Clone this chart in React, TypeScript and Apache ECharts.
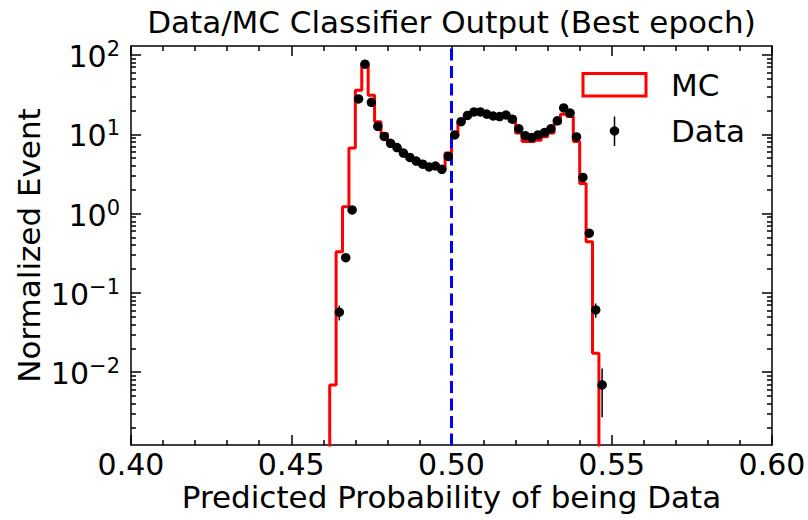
import React, { useEffect, useRef } from "react";
import * as echarts from "echarts";

// ---- data ----
const MC_FIRST_EDGE = 0.462;
const BIN_WIDTH = 0.002;
const mcValues = [
  0.0069, 0.33, 1.22, 6.7, 36, 78, 31, 14.4, 10.2, 8.0, 6.9, 5.9, 5.2, 4.7,
  4.3, 4.0, 3.9, 3.55, 5.8, 9.5, 14.3, 17.5, 19.0, 19.3, 18.2, 17.3, 17.0,
  17.5, 14.5, 10.4, 8.1, 8.1, 8.4, 9.3, 10.4, 13.8, 17.9, 16.7, 8.1, 2.4,
  0.44, 0.0173,
];
const dataX = [
  0.465, 0.467, 0.469, 0.471, 0.473, 0.475, 0.477, 0.479, 0.481, 0.483,
  0.485, 0.487, 0.489, 0.491, 0.493, 0.495, 0.497, 0.499, 0.501, 0.503,
  0.505, 0.507, 0.509, 0.511, 0.513, 0.515, 0.517, 0.519, 0.521, 0.523,
  0.525, 0.527, 0.529, 0.531, 0.533, 0.535, 0.537, 0.539, 0.541, 0.543,
  0.545, 0.547,
];
const dataY = [
  0.057, 0.278, 1.11, 27.9, 76.4, 25.3, 12.6, 9.4, 7.7, 6.8, 5.8, 5.1, 4.6,
  4.2, 3.87, 3.98, 3.62, 5.25, 9.8, 14.4, 17.3, 19.1, 19.1, 18.0, 17.0, 16.7,
  17.5, 15.5, 11.7, 9.6, 9.1, 9.8, 10.5, 11.7, 14.8, 21.5, 18.5, 9.25, 2.86,
  0.565, 0.061, 0.0069,
];
const dataErr = [
  0.012, 0.027, 0.053, 0.27, 0.44, 0.25, 0.18, 0.155, 0.14, 0.13, 0.12, 0.11,
  0.11, 0.1, 0.1, 0.1, 0.096, 0.116, 0.16, 0.19, 0.21, 0.22, 0.22, 0.21, 0.21,
  0.21, 0.21, 0.2, 0.17, 0.16, 0.15, 0.16, 0.16, 0.17, 0.19, 0.24, 0.22, 0.15,
  0.086, 0.038, 0.0125, 0.0042,
];
const xTickLabels = [0.4, 0.45, 0.5, 0.55, 0.6];
const xMinorTicks = [
  0.41, 0.42, 0.43, 0.44, 0.46, 0.47, 0.48, 0.49, 0.51, 0.52, 0.53, 0.54,
  0.56, 0.57, 0.58, 0.59,
];
const yDecades = [-2, -1, 0, 1, 2];
const cutLine = 0.5;

const X_MIN = 0.4;
const X_MAX = 0.6;
const Y_MIN = -2.918; // log10
const Y_MAX = 2.113; // log10
const FLOOR = -8;
const FONT = "DejaVu Sans";

const lg = (v: number) => (v > 0 ? Math.log10(v) : FLOOR);

export default function App() {
  const ref = useRef<HTMLDivElement>(null);
  useEffect(() => {
    if (!ref.current) return;
    const chart = echarts.init(ref.current, undefined, { renderer: "svg" });

    // step outline of MC histogram
    const step: number[][] = [[MC_FIRST_EDGE, FLOOR]];
    mcValues.forEach((v, i) => {
      const lo = MC_FIRST_EDGE + i * BIN_WIDTH;
      const hi = lo + BIN_WIDTH;
      step.push([lo, lg(v)], [hi, lg(v)]);
    });
    step.push([MC_FIRST_EDGE + mcValues.length * BIN_WIDTH, FLOOR]);

    const pts = dataX.map((x, i) => [x, lg(dataY[i])]);
    const errs = dataX.map((x, i) => [
      x,
      lg(dataY[i] + dataErr[i]),
      dataY[i] - dataErr[i] > 0 ? lg(dataY[i] - dataErr[i]) : FLOOR,
    ]);

    const yMinor: number[] = [];
    for (let n = -3; n <= 2; n++) {
      for (let k = 2; k <= 9; k++) {
        const v = n + Math.log10(k);
        if (v > Y_MIN && v < Y_MAX) yMinor.push(v);
      }
    }

    const supLabel = (v: number) => {
      const n = Math.round(v);
      const s = n < 0 ? "\u2212" + -n : "" + n;
      return `{b|10}{s|${s}}`;
    };

    const baseY = {
      type: "value",
      min: Y_MIN,
      max: Y_MAX,
      splitLine: { show: false },
    };
    const lineStyle = { color: "#000", width: 1.5 };
    const baseX = {
      type: "value",
      min: X_MIN,
      max: X_MAX,
      splitLine: { show: false },
    };

    chart.setOption({
      animation: false,
      backgroundColor: "#fff",
      grid: {
        left: 131,
        right: 36,
        top: 46,
        bottom: 75,
        containLabel: false,
        outerBoundsMode: "none",
      },
      xAxis: [
        {
          ...baseX,
          position: "bottom",
          axisLine: { show: true, onZero: false, lineStyle },
          axisTick: {
            show: true,
            inside: true,
            length: 10,
            customValues: xTickLabels,
            lineStyle,
          },
          axisLabel: {
            show: true,
            customValues: xTickLabels,
            formatter: (v: number) => v.toFixed(2),
            fontFamily: FONT,
            fontSize: 30,
            color: "#000",
            margin: 4,
          },
        },
        {
          ...baseX,
          position: "bottom",
          axisLine: { show: false, onZero: false },
          axisTick: {
            show: true,
            inside: true,
            length: 5,
            customValues: xMinorTicks,
            lineStyle,
          },
          axisLabel: { show: false },
        },
        {
          ...baseX,
          position: "top",
          axisLine: { show: true, onZero: false, lineStyle },
          axisTick: {
            show: true,
            inside: true,
            length: 10,
            customValues: xTickLabels,
            lineStyle,
          },
          axisLabel: { show: false },
        },
        {
          ...baseX,
          position: "top",
          axisLine: { show: false, onZero: false },
          axisTick: {
            show: true,
            inside: true,
            length: 5,
            customValues: xMinorTicks,
            lineStyle,
          },
          axisLabel: { show: false },
        },
      ],
      yAxis: [
        {
          ...baseY,
          position: "left",
          axisLine: { show: true, onZero: false, lineStyle },
          axisTick: {
            show: true,
            inside: true,
            length: 10,
            customValues: yDecades,
            lineStyle,
          },
          axisLabel: {
            show: true,
            customValues: yDecades,
            formatter: supLabel,
            margin: 11,
            rich: {
              b: {
                fontFamily: FONT,
                fontSize: 30,
                color: "#000",
                lineHeight: 33,
                verticalAlign: "bottom",
              },
              s: {
                fontFamily: FONT,
                fontSize: 21,
                color: "#000",
                lineHeight: 22,
                verticalAlign: "top",
              },
            },
          },
        },
        {
          ...baseY,
          position: "left",
          axisLine: { show: false, onZero: false },
          axisTick: {
            show: true,
            inside: true,
            length: 5,
            customValues: yMinor,
            lineStyle,
          },
          axisLabel: { show: false },
        },
        {
          ...baseY,
          position: "right",
          axisLine: { show: true, onZero: false, lineStyle },
          axisTick: {
            show: true,
            inside: true,
            length: 10,
            customValues: yDecades,
            lineStyle,
          },
          axisLabel: { show: false },
        },
        {
          ...baseY,
          position: "right",
          axisLine: { show: false, onZero: false },
          axisTick: {
            show: true,
            inside: true,
            length: 5,
            customValues: yMinor,
            lineStyle,
          },
          axisLabel: { show: false },
        },
      ],
      series: [
        {
          name: "MC",
          type: "line",
          data: step,
          showSymbol: false,
          symbol: "none",
          clip: true,
          lineStyle: { color: "#ff0000", width: 3 },
          z: 2,
        },
        {
          name: "cut",
          type: "line",
          data: [
            [cutLine, FLOOR],
            [cutLine, 10],
          ],
          symbol: "none",
          clip: true,
          lineStyle: { color: "#0000ff", width: 3, type: [12, 5.5] },
          z: 3,
        },
        {
          name: "DataErr",
          type: "custom",
          data: errs,
          clip: true,
          renderItem: (_p: any, api: any) => {
            const a = api.coord([api.value(0), api.value(1)]);
            const b = api.coord([api.value(0), api.value(2)]);
            return {
              type: "line",
              shape: { x1: a[0], y1: a[1], x2: b[0], y2: b[1] },
              style: { stroke: "#000", lineWidth: 1.5 },
            };
          },
          z: 4,
        },
        {
          name: "Data",
          type: "scatter",
          data: pts,
          symbol: "circle",
          symbolSize: 9.5,
          itemStyle: { color: "#000", opacity: 1 },
          z: 5,
        },
      ],
      graphic: [
        {
          type: "text",
          x: 451.5,
          y: 22,
          style: {
            text: "Data/MC Classifier Output (Best epoch)",
            font: `31px '${FONT}'`,
            fill: "#000",
            align: "center",
            verticalAlign: "middle",
          },
        },
        {
          type: "text",
          x: 451.5,
          y: 497,
          style: {
            text: "Predicted Probability of being Data",
            font: `31px '${FONT}'`,
            fill: "#000",
            align: "center",
            verticalAlign: "middle",
          },
        },
        {
          type: "text",
          x: 29,
          y: 245.5,
          rotation: Math.PI / 2,
          style: {
            text: "Normalized Event",
            font: `31px '${FONT}'`,
            fill: "#000",
            align: "center",
            verticalAlign: "middle",
          },
        },
        {
          type: "rect",
          shape: { x: 583, y: 73.5, width: 63, height: 22.5 },
          style: { fill: "none", stroke: "#ff0000", lineWidth: 3 },
        },
        {
          type: "text",
          x: 671,
          y: 85,
          style: {
            text: "MC",
            font: `31px '${FONT}'`,
            fill: "#000",
            align: "left",
            verticalAlign: "middle",
          },
        },
        {
          type: "line",
          shape: { x1: 614.5, y1: 116.5, x2: 614.5, y2: 146 },
          style: { stroke: "#000", lineWidth: 1.5 },
        },
        {
          type: "circle",
          shape: { cx: 614.5, cy: 131, r: 4.75 },
          style: { fill: "#000" },
        },
        {
          type: "text",
          x: 671,
          y: 131,
          style: {
            text: "Data",
            font: `31px '${FONT}'`,
            fill: "#000",
            align: "left",
            verticalAlign: "middle",
          },
        },
      ],
    });
    return () => chart.dispose();
  }, []);
  return (
    <div
      ref={ref}
      style={{ position: "fixed", left: 0, top: 0, width: 808, height: 520 }}
    />
  );
}
